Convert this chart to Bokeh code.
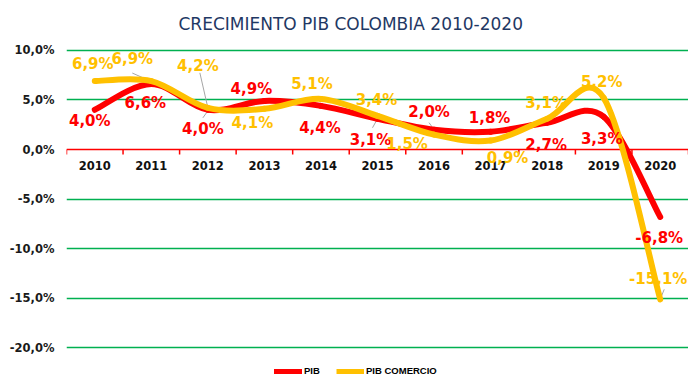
import numpy as np
from bokeh.plotting import figure
from bokeh.models import Range1d, FixedTicker, Span, Legend, LegendItem, ColumnDataSource
from bokeh.core.properties import value
from bokeh.embed import file_html
from bokeh.resources import INLINE

# ---- data ----
years = ["2010", "2011", "2012", "2013", "2014", "2015", "2016", "2017", "2018", "2019", "2020"]
pib = [4.0, 6.6, 4.0, 4.9, 4.4, 3.1, 2.0, 1.8, 2.7, 3.3, -6.8]
pib_comercio = [6.9, 6.9, 4.2, 4.1, 5.1, 3.4, 1.5, 0.9, 3.1, 5.2, -15.1]
y_ticks = [-20, -15, -10, -5, 0, 5, 10]
y_tick_labels = ["-20,0%", "-15,0%", "-10,0%", "-5,0%", "0,0%", "5,0%", "10,0%"]
series_names = ["PIB", "PIB COMERCIO"]
title_text = "CRECIMIENTO PIB COLOMBIA 2010-2020"

# ---- styling: data-label offsets in pixels ----
pib_dx = [-5, -6, -5, -13, -1, -7, -5, -1, -1, -2, -1]
pib_dy = [11, 18.5, 19, -12, 22, 21, -18, -14, 22, 22, 21.5]
com_dx = [-2, -19, -10, -12, -9, -1, -27, 17, -1, -2, -2]
com_dy = [-17.5, -22.5, -42, 14, -15, -16, 9, 17, -16, -16, -20]
# leader lines: (series, index, px offsets from point: dx0, dy0, dx1, dy1)
leaders = [("c", 1, -1, 0, -19, -8), ("c", 2, 0, 0, -8, -35), ("p", 2, 0, 1, -5, 8),
           ("p", 5, 0, 0, -5, 9), ("p", 6, 0, 0, -5, -7), ("c", 10, 0, 0, 4, -10)]

RED = "#FF0000"
YEL = "#FFC000"
GRID = "#00B050"
FONT = "DejaVu Sans"

FRAME_L, FRAME_R, FRAME_T, FRAME_B = 66, 688, 38, 376
Y0, Y1 = -22.88, 11.19


def fmt(v):
    return f"{v:.1f}".replace(".", ",") + "%"


def smooth_segments(vals):
    # Excel-style (Catmull-Rom) bezier segments through the data points
    n = len(vals)
    xs = np.arange(n, dtype=float)
    ys = np.asarray(vals, dtype=float)
    d = dict(x0=[], y0=[], x1=[], y1=[], cx0=[], cy0=[], cx1=[], cy1=[])
    for i in range(n - 1):
        im1 = max(i - 1, 0)
        ip2 = min(i + 2, n - 1)
        d["x0"].append(xs[i]); d["y0"].append(ys[i])
        d["x1"].append(xs[i + 1]); d["y1"].append(ys[i + 1])
        d["cx0"].append(xs[i] + (xs[i + 1] - xs[im1]) / 6)
        d["cy0"].append(ys[i] + (ys[i + 1] - ys[im1]) / 6)
        d["cx1"].append(xs[i + 1] - (xs[ip2] - xs[i]) / 6)
        d["cy1"].append(ys[i + 1] - (ys[ip2] - ys[i]) / 6)
    return ColumnDataSource(d)


p = figure(width=FRAME_R, height=FRAME_B,
           x_range=Range1d(-0.5, len(years) - 0.5),
           y_range=Range1d(Y0, Y1),
           x_axis_location=None,
           min_border_left=FRAME_L, min_border_right=0,
           min_border_top=FRAME_T, min_border_bottom=0,
           outline_line_color=None, toolbar_location=None,
           output_backend="svg")

p.title.text = title_text
p.title.align = "left"
p.title.offset = 112
p.title.text_font = FONT
p.title.text_font_size = "17px"
p.title.text_font_style = "normal"
p.title.text_color = "#1F3864"
p.title.standoff = 9

p.xgrid.visible = False
p.ygrid.ticker = FixedTicker(ticks=[t for t in y_ticks if t != 0])
p.ygrid.grid_line_color = GRID
p.ygrid.grid_line_width = 1.3

ax = p.yaxis[0]
ax.ticker = FixedTicker(ticks=y_ticks)
ax.major_label_overrides = {t: l for t, l in zip(y_ticks, y_tick_labels)}
ax.axis_line_color = None
ax.major_tick_line_color = None
ax.minor_tick_line_color = None
ax.major_tick_out = 0
ax.major_tick_in = 0
ax.major_label_standoff = 12
ax.major_label_text_font = FONT
ax.major_label_text_font_style = "bold"
ax.major_label_text_font_size = "11.5px"
ax.major_label_text_color = "#1a1a1a"

# category axis drawn at zero
p.add_layout(Span(location=0, dimension="width", line_color=RED, line_width=1.5, level="underlay"))
bounds = np.arange(len(years) + 1) - 0.5
p.segment(x0=bounds, y0=0, x1=bounds, y1=-0.5, line_color=RED, line_width=1.5)
p.text(x=list(range(len(years))), y=[0] * len(years), text=years, y_offset=16,
       text_align="center", text_baseline="middle", text_font=value(FONT),
       text_font_style="bold", text_font_size="11.5px", text_color="#111111")

# leader lines (gray), converted from pixel offsets to data units
px_x = (FRAME_R - FRAME_L) / len(years)
px_y = (FRAME_B - FRAME_T) / (Y1 - Y0)
lx0, ly0, lx1, ly1 = [], [], [], []
for s, i, dx0, dy0, dx1, dy1 in leaders:
    v = pib[i] if s == "p" else pib_comercio[i]
    lx0.append(i + dx0 / px_x); ly0.append(v - dy0 / px_y)
    lx1.append(i + dx1 / px_x); ly1.append(v - dy1 / px_y)
p.segment(x0=lx0, y0=ly0, x1=lx1, y1=ly1, line_color="#A6A6A6", line_width=1)

# smoothed lines
p.bezier(source=smooth_segments(pib), x0="x0", y0="y0", x1="x1", y1="y1",
         cx0="cx0", cy0="cy0", cx1="cx1", cy1="cy1",
         line_color=RED, line_width=6, line_cap="round")
p.bezier(source=smooth_segments(pib_comercio), x0="x0", y0="y0", x1="x1", y1="y1",
         cx0="cx0", cy0="cy0", cx1="cx1", cy1="cy1",
         line_color=YEL, line_width=6, line_cap="round")

# data labels
idx = list(range(len(years)))
p.text(x=idx, y=pib, text=[fmt(v) for v in pib], x_offset=pib_dx, y_offset=pib_dy,
       text_align="center", text_baseline="middle", text_font=value(FONT),
       text_font_style="bold", text_font_size="15px", text_color=RED)
p.text(x=idx, y=pib_comercio, text=[fmt(v) for v in pib_comercio], x_offset=com_dx, y_offset=com_dy,
       text_align="center", text_baseline="middle", text_font=value(FONT),
       text_font_style="bold", text_font_size="15px", text_color=YEL)

# legend (single-point lines: nothing drawn in the plot, glyph shown in legend)
r1 = p.line(x=idx[:1], y=pib[:1], line_color=RED, line_width=5, line_cap="round")
r2 = p.line(x=idx[:1], y=pib_comercio[:1], line_color=YEL, line_width=5)
legend = Legend(items=[LegendItem(label=series_names[0], renderers=[r1]),
                       LegendItem(label=series_names[1], renderers=[r2])],
                orientation="horizontal", location=(208, 0),
                border_line_color=None, background_fill_alpha=0,
                padding=0, margin=0, spacing=12,
                glyph_width=28, glyph_height=8, label_height=8, label_standoff=2,
                label_text_font="Liberation Sans Narrow, Liberation Sans, sans-serif",
                label_text_font_size="9.5px", label_text_font_style="bold",
                label_text_color="#000000")
p.add_layout(legend)

open("out.html", "w").write(file_html(p, INLINE))
